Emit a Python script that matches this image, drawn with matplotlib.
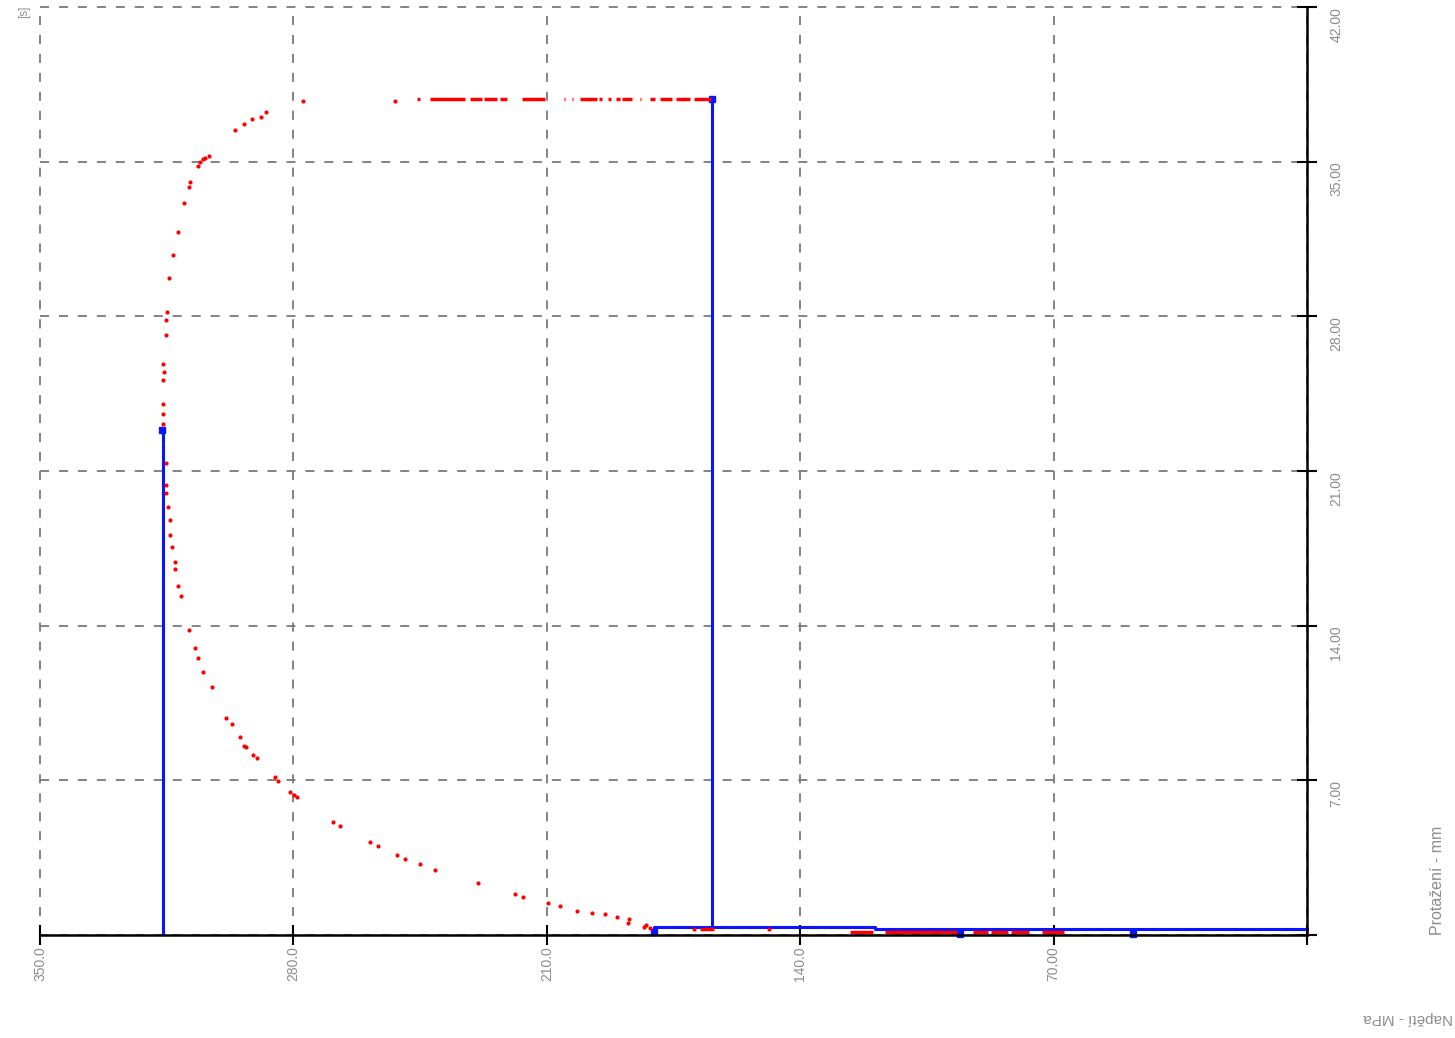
import matplotlib
matplotlib.use("Agg")
import matplotlib.pyplot as plt

# --- data ---
x_ticks = [350, 280, 210, 140, 70, 0]
x_labels = ["350.0", "280.0", "210.0", "140.0", "70.00", ""]
y_ticks = [0, 7, 14, 21, 28, 35, 42]
y_labels = ["", "7.00", "14.00", "21.00", "28.00", "35.00", "42.00"]

# red measured points (curve)
red_x = [181.5, 183.2, 182.6, 187.6, 187.3, 190.6, 193.9, 197.5, 201.7, 206.4,
         209.7, 216.6, 218.8, 229.0, 240.9, 245.0, 249.2, 251.4, 256.6, 258.8,
         267.1, 269.1, 279.0, 279.8, 280.9, 284.3, 285.1, 290.1, 291.2, 293.1,
         293.6, 294.8, 297.0, 298.6, 302.5, 305.0, 306.4, 307.2, 308.8, 311.0,
         311.9, 312.7, 312.7, 313.5, 314.1, 314.1, 314.6, 315.2, 315.2, 315.2,
         316.0, 316.0, 316.0, 316.0, 316.0, 315.7, 315.2, 315.2, 314.9, 314.4,
         313.3, 311.9, 310.2, 308.8, 308.6, 306.4, 305.8, 305.0, 304.4, 303.3,
         296.1, 293.6, 291.4, 289.0, 287.6, 277.3, 251.9, 148.6, 169.3]
red_y = [0.32, 0.36, 0.45, 0.54, 0.72, 0.83, 0.95, 1.00, 1.09, 1.31,
         1.45, 1.72, 1.86, 2.35, 2.94, 3.21, 3.44, 3.62, 4.03, 4.21,
         4.93, 5.11, 6.24, 6.33, 6.47, 6.97, 7.15, 8.01, 8.14, 8.51,
         8.55, 8.96, 9.55, 9.82, 11.22, 11.90, 12.53, 12.99, 13.80, 15.34,
         15.79, 16.56, 16.88, 17.56, 18.10, 18.78, 19.37, 20.00, 20.36, 21.36,
         23.12, 23.57, 24.03, 25.11, 25.84, 25.48, 27.15, 27.83, 28.19, 29.73,
         30.77, 31.81, 33.12, 33.85, 34.07, 34.80, 34.98, 35.11, 35.16, 35.25,
         36.43, 36.70, 36.92, 37.01, 37.24, 37.74, 37.74, 0.27, 0.27]

# red dashes along the upper plateau
plateau_y = 37.83
plateau_start = [245.9, 242.3, 231.2, 227.3, 222.9, 216.9, 205.3, 203.0, 200.8,
                 195.6, 193.1, 190.9, 189.2, 184.3, 181.5, 178.7, 174.3, 169.3]
plateau_end = [245.0, 232.6, 227.9, 223.8, 221.0, 210.5, 205.0, 202.8, 196.1,
               194.8, 192.3, 189.8, 186.5, 184.0, 180.1, 175.4, 170.4, 164.6]

# red dashes near the baseline
low_y = [0.27, 0.14, 0.14, 0.14, 0.14, 0.14, 0.14]
low_start = [167.7, 126.2, 116.6, 92.3, 87.3, 81.8, 73.2]
low_end = [163.8, 119.9, 96.7, 88.1, 82.6, 76.8, 67.1]

# blue lines
bar1_x, bar1_top = 316.0, 22.85
bar2_x, bar2_bottom, bar2_top = 164.5, 0.375, 37.83
step_x = [180.4, 180.4, 119.3, 119.3, 0.0]
step_y = [0.10, 0.375, 0.375, 0.26, 0.26]
mark_x = [316.4, 164.5, 180.4, 95.9, 48.2]
mark_y = [22.85, 37.83, 0.12, 0.05, 0.05]

BLUE = "#0a14ff"
RED = "#ff0000"
GRAY = "#8c8c8c"

fig = plt.figure(figsize=(14.55, 10.38), dpi=100)
ax = fig.add_axes([40 / 1455, 103 / 1038, 1267 / 1455, 928 / 1038])

ax.set_xlim(350, 0)
ax.set_ylim(0, 42)

# blue
ax.plot([bar1_x, bar1_x], [0, bar1_top], color=BLUE, lw=2.2, zorder=3)
ax.plot([bar2_x, bar2_x], [bar2_bottom, bar2_top], color=BLUE, lw=2.2, zorder=3)
ax.plot(step_x, step_y, color=BLUE, lw=2.2, zorder=3, clip_on=False)
ax.plot(mark_x, mark_y, "s", color=BLUE, ms=4.5, zorder=3, clip_on=False)

# red
ax.plot(red_x, red_y, "o", color=RED, ms=3, mec="none", zorder=4)
ax.hlines([plateau_y] * len(plateau_start), plateau_start, plateau_end,
          color=RED, lw=2.5, zorder=4)
ax.hlines(low_y, low_start, low_end, color=RED, lw=2.5, zorder=4)

# axes styling
ax.set_xticks(x_ticks)
ax.set_xticklabels(x_labels)
ax.set_yticks(y_ticks)
ax.set_yticklabels(y_labels)
ax.yaxis.tick_right()

ax.grid(True, color="#7a7a7a", lw=1.3, ls=(0, (5, 5.5)))
for gl in ax.get_xgridlines() + ax.get_ygridlines():
    gl.set_clip_on(False)

for s in ("top", "left"):
    ax.spines[s].set_visible(False)
for s in ("bottom", "right"):
    ax.spines[s].set_linewidth(1.8)
    ax.spines[s].set_color("black")
    ax.spines[s].set_zorder(5)

ax.tick_params(axis="both", direction="inout", length=14, width=1.5, color="black",
               labelcolor=GRAY, labelsize=10)
ax.tick_params(axis="x", pad=1)
ax.tick_params(axis="y", pad=9)
for lab in ax.get_xticklabels():
    lab.set_rotation(90)
    lab.set_va("top")
    lab.set_ha("center")
    lab.set_family("Liberation Sans")
for lab in ax.get_yticklabels():
    lab.set_rotation(90)
    lab.set_va("top")
    lab.set_ha("left")
    lab.set_family("Liberation Sans")

fig.text(1437 / 1455, 103 / 1038, "Protažení - mm", rotation=90, ha="center",
         va="bottom", color=GRAY, fontsize=11.5, family="Liberation Sans")
fig.text(1453 / 1455, 20 / 1038, "Napětí - MPa", rotation=180, ha="right",
         va="center", color=GRAY, fontsize=11, family="Liberation Sans")
fig.text(24 / 1455, 1032 / 1038, "[s]", rotation=90, ha="center", va="top",
         color=GRAY, fontsize=8.5, family="Liberation Sans")

fig.savefig("out.png", dpi=100)
